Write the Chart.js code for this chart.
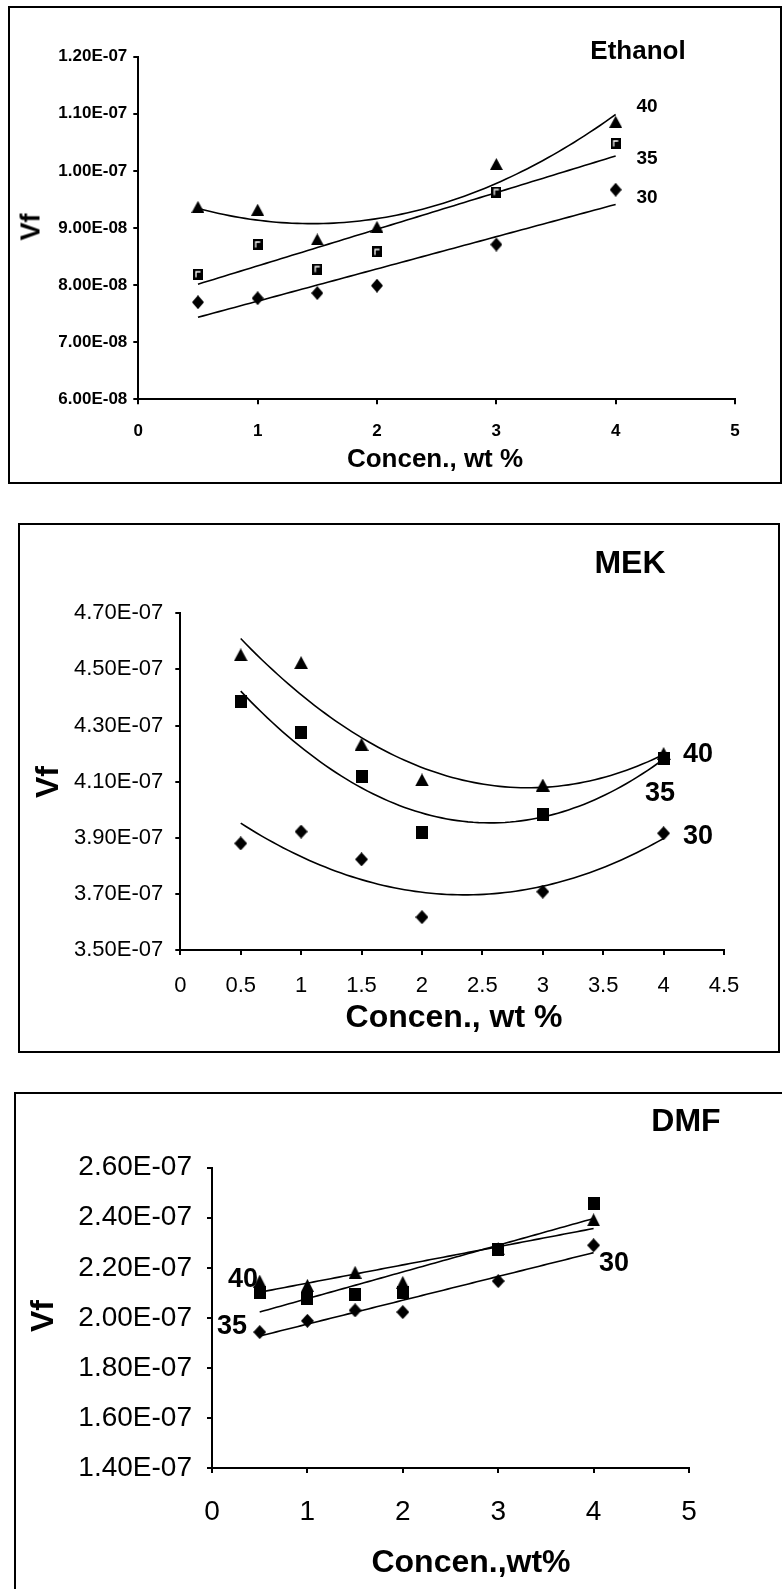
<!DOCTYPE html>
<html>
<head>
<meta charset="utf-8">
<script src="https://cdn.jsdelivr.net/npm/chart.js@4.4.1/dist/chart.umd.min.js"></script>
<style>
  html, body { margin: 0; padding: 0; background: #fff; }
  body { width: 782px; height: 1589px; overflow: hidden; position: relative;
         font-family: "Liberation Sans", Arial, Helvetica, sans-serif; color: #000; }
  .frame { position: absolute; border: 2px solid #000; box-sizing: border-box; }
  canvas { position: absolute; left: 0; }
  .txt { position: absolute; white-space: nowrap; font-weight: bold; line-height: 1;
         transform: translate(-50%, -50%); }
  .rot { transform: translate(-50%, -50%) rotate(-90deg); }
</style>
</head>
<body>
<div class="frame" style="left:8px;top:6px;width:774px;height:478px;"></div>
<div class="frame" style="left:18px;top:523px;width:762px;height:530px;"></div>
<div class="frame" style="left:14px;top:1092px;width:800px;height:600px;"></div>

<canvas id="cEthanol" width="782" height="490" style="top:0px"></canvas>
<canvas id="cMek" width="782" height="560" style="top:500px"></canvas>
<canvas id="cDmf" width="782" height="529" style="top:1060px"></canvas>

<div class="txt" style="left:638px;top:50px;font-size:26px;">Ethanol</div>
<div class="txt" style="left:647px;top:105px;font-size:19px;">40</div>
<div class="txt" style="left:647px;top:157px;font-size:19px;">35</div>
<div class="txt" style="left:647px;top:196px;font-size:19px;">30</div>
<div class="txt rot" style="left:31px;top:227px;font-size:27px;">Vf</div>
<div class="txt" style="left:435px;top:458px;font-size:26px;">Concen., wt %</div>

<div class="txt" style="left:630px;top:562px;font-size:32px;">MEK</div>
<div class="txt" style="left:698px;top:753px;font-size:27px;">40</div>
<div class="txt" style="left:660px;top:792px;font-size:27px;">35</div>
<div class="txt" style="left:698px;top:835px;font-size:27px;">30</div>
<div class="txt rot" style="left:47px;top:782px;font-size:32px;">Vf</div>
<div class="txt" style="left:454px;top:1016px;font-size:32px;">Concen., wt %</div>

<div class="txt" style="left:686px;top:1120px;font-size:32px;">DMF</div>
<div class="txt" style="left:243px;top:1278px;font-size:27px;">40</div>
<div class="txt" style="left:232px;top:1325px;font-size:27px;">35</div>
<div class="txt" style="left:614px;top:1262px;font-size:27px;">30</div>
<div class="txt rot" style="left:42px;top:1316px;font-size:32px;">Vf</div>
<div class="txt" style="left:471px;top:1561px;font-size:32px;">Concen.,wt%</div>

<script>
// Concentration of solvent (wt %) at which Vf was measured
const concen = [0.5, 1, 1.5, 2, 3, 4];

// Series names: temperatures 30, 35, 40
const temps = ['30', '35', '40'];

// Ethanol
const ethanol30 = [7.70e-8, 7.77e-8, 7.86e-8, 7.99e-8, 8.71e-8, 9.67e-8];
const ethanol35 = [8.19e-8, 8.71e-8, 8.28e-8, 8.58e-8, 9.63e-8, 1.048e-7];
const ethanol40 = [9.37e-8, 9.32e-8, 8.80e-8, 9.02e-8, 1.012e-7, 1.086e-7];
const ethanolFitOrder = [1, 1, 2];

// MEK
const mek30 = [3.880e-7, 3.922e-7, 3.823e-7, 3.617e-7, 3.708e-7, 3.916e-7];
const mek35 = [4.385e-7, 4.275e-7, 4.118e-7, 3.920e-7, 3.984e-7, 4.183e-7];
const mek40 = [4.552e-7, 4.524e-7, 4.233e-7, 4.106e-7, 4.088e-7, 4.200e-7];
const mekFitOrder = [2, 2, 2];

// DMF
const dmf30 = [1.943e-7, 1.988e-7, 2.030e-7, 2.023e-7, 2.147e-7, 2.290e-7];
const dmf35 = [2.102e-7, 2.076e-7, 2.093e-7, 2.102e-7, 2.273e-7, 2.455e-7];
const dmf40 = [2.147e-7, 2.130e-7, 2.182e-7, 2.142e-7, 2.276e-7, 2.392e-7];
const dmfFitOrder = [1, 1, 1];

// Axis ticks
const ethanolXTicks = [0, 1, 2, 3, 4, 5];
const ethanolYTicks = [6e-8, 7e-8, 8e-8, 9e-8, 1.0e-7, 1.1e-7, 1.2e-7];
const mekXTicks = [0, 0.5, 1, 1.5, 2, 2.5, 3, 3.5, 4, 4.5];
const mekYTicks = [3.5e-7, 3.7e-7, 3.9e-7, 4.1e-7, 4.3e-7, 4.5e-7, 4.7e-7];
const dmfXTicks = [0, 1, 2, 3, 4, 5];
const dmfYTicks = [1.4e-7, 1.6e-7, 1.8e-7, 2.0e-7, 2.2e-7, 2.4e-7, 2.6e-7];

Chart.defaults.font.family = '"Liberation Sans", Arial, Helvetica, sans-serif';
Chart.defaults.color = '#000';

// "1.20E-07" style labels
function sciLabel(v) {
  const parts = Number(v).toExponential(2).split('e');
  const e = parseInt(parts[1], 10);
  return parts[0] + 'E' + (e < 0 ? '-' : '+') + String(Math.abs(e)).padStart(2, '0');
}

// Least-squares polynomial trend line through the measured points
function polyFit(xs, ys, deg) {
  const n = deg + 1;
  const xm = xs.reduce((a, b) => a + b, 0) / xs.length;
  const A = [];
  for (let r = 0; r < n; r++) {
    A.push(new Array(n + 1).fill(0));
  }
  xs.forEach((x, i) => {
    const u = x - xm;
    for (let r = 0; r < n; r++) {
      for (let c = 0; c < n; c++) A[r][c] += Math.pow(u, r + c);
      A[r][n] += Math.pow(u, r) * ys[i];
    }
  });
  for (let p = 0; p < n; p++) {
    let best = p;
    for (let r = p + 1; r < n; r++) if (Math.abs(A[r][p]) > Math.abs(A[best][p])) best = r;
    [A[p], A[best]] = [A[best], A[p]];
    for (let r = 0; r < n; r++) {
      if (r === p) continue;
      const f = A[r][p] / A[p][p];
      for (let c = p; c <= n; c++) A[r][c] -= f * A[p][c];
    }
  }
  const coef = A.map((row, i) => row[n] / row[i]);
  return x => coef.reduce((s, a, k) => s + a * Math.pow(x - xm, k), 0);
}

// Marker glyphs
function marker(w, h, draw) {
  const c = document.createElement('canvas');
  c.width = w; c.height = h;
  const g = c.getContext('2d');
  draw(g, w, h);
  return c;
}
function triangle(w, h) {
  return marker(w, h, (g) => {
    g.fillStyle = '#000';
    g.beginPath(); g.moveTo(w / 2, 0); g.lineTo(w, h); g.lineTo(0, h); g.closePath(); g.fill();
  });
}
function diamond(w, h) {
  return marker(w, h, (g) => {
    g.fillStyle = '#000';
    g.beginPath(); g.moveTo(w / 2, 0); g.lineTo(w, h / 2); g.lineTo(w / 2, h); g.lineTo(0, h / 2); g.closePath(); g.fill();
  });
}
function square(w, h, inner) {
  return marker(w, h, (g) => {
    g.fillStyle = '#000';
    g.fillRect(0, 0, w, h);
    if (inner) {
      g.strokeStyle = '#fff'; g.lineWidth = 1.3;
      g.beginPath(); g.moveTo(3, h - 2.5); g.lineTo(3, 3); g.lineTo(w - 2.5, 3); g.stroke();
    }
  });
}

function buildDatasets(seriesList, orders, markers) {
  const ds = [];
  seriesList.forEach((ys, i) => {
    const f = polyFit(concen, ys, orders[i]);
    const x0 = Math.min(...concen), x1 = Math.max(...concen);
    const pts = [];
    for (let k = 0; k <= 80; k++) {
      const x = x0 + (x1 - x0) * k / 80;
      pts.push({ x: x, y: f(x) });
    }
    ds.push({
      label: temps[i] + ' fit', data: pts, showLine: true, borderColor: '#000',
      borderWidth: 1.6, pointRadius: 0, fill: false, tension: 0, order: 2
    });
    ds.push({
      label: temps[i], data: concen.map((x, j) => ({ x: x, y: ys[j] })), showLine: false,
      pointStyle: markers[i], pointRadius: 6, pointHoverRadius: 6, order: 1
    });
  });
  return ds;
}

function axis(cfg) {
  return {
    type: 'linear', position: cfg.pos, min: cfg.min, max: cfg.max,
    afterBuildTicks: s => { s.ticks = cfg.ticks.map(v => ({ value: v })); },
    afterFit: s => { if (cfg.pos === 'bottom') s.height = cfg.size; else s.width = cfg.size; },
    border: { display: true, color: '#000', width: 2 },
    grid: { display: true, drawOnChartArea: false, drawTicks: true, tickLength: 5,
            tickWidth: 2, tickColor: '#000', color: '#000', lineWidth: 2 },
    ticks: { color: '#000', font: cfg.font, padding: cfg.pad, autoSkip: false,
             maxRotation: 0, minRotation: 0, callback: cfg.fmt }
  };
}

function makeChart(id, datasets, padding, xCfg, yCfg) {
  return new Chart(document.getElementById(id), {
    type: 'scatter',
    data: { datasets: datasets },
    options: {
      responsive: false, animation: false, events: [],
      layout: { padding: padding },
      plugins: { legend: { display: false }, tooltip: { enabled: false } },
      scales: { x: axis(xCfg), y: axis(yCfg) }
    }
  });
}

const plainX = v => String(v);

// Ethanol panel
makeChart('cEthanol',
  buildDatasets([ethanol30, ethanol35, ethanol40], ethanolFitOrder,
    [diamond(12, 14), square(10, 11, true), triangle(13, 12)]),
  { left: 18.3, right: 47, top: 56.7, bottom: 40.7 },
  { pos: 'bottom', min: 0, max: 5, ticks: ethanolXTicks, size: 50, pad: 17,
    font: { size: 17, weight: 'bold' }, fmt: plainX },
  { pos: 'left', min: 6e-8, max: 1.2e-7, ticks: ethanolYTicks, size: 120, pad: 6,
    font: { size: 17, weight: 'bold' }, fmt: sciLabel });

// MEK panel
makeChart('cMek',
  buildDatasets([mek30, mek35, mek40], mekFitOrder,
    [diamond(13, 14), square(12, 13, false), triangle(14, 13)]),
  { left: 60.3, right: 58, top: 113.3, bottom: 50 },
  { pos: 'bottom', min: 0, max: 4.5, ticks: mekXTicks, size: 60, pad: 18,
    font: { size: 22 }, fmt: plainX },
  { pos: 'left', min: 3.5e-7, max: 4.7e-7, ticks: mekYTicks, size: 120, pad: 12,
    font: { size: 22 }, fmt: sciLabel });

// DMF panel
makeChart('cDmf',
  buildDatasets([dmf30, dmf35, dmf40], dmfFitOrder,
    [diamond(13, 14), square(12, 13, false), triangle(13, 13)]),
  { left: 62, right: 93, top: 107.7, bottom: 61 },
  { pos: 'bottom', min: 0, max: 5, ticks: dmfXTicks, size: 60, pad: 22,
    font: { size: 28 }, fmt: plainX },
  { pos: 'left', min: 1.4e-7, max: 2.6e-7, ticks: dmfYTicks, size: 150, pad: 15,
    font: { size: 28 }, fmt: sciLabel });
</script>
</body>
</html>
